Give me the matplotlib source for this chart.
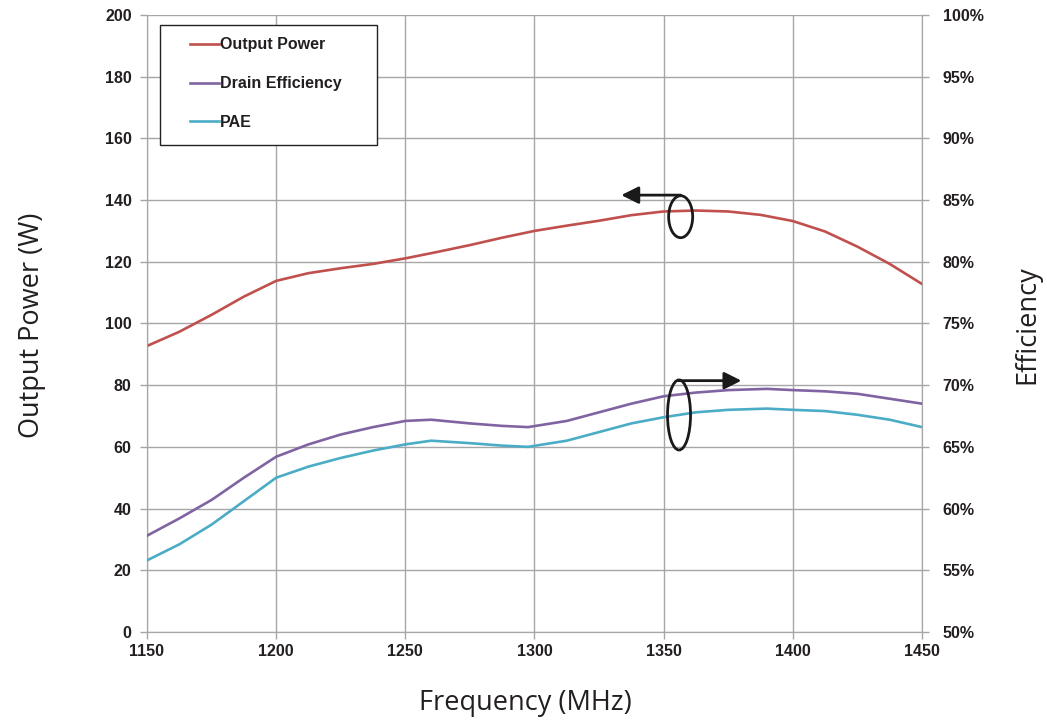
import matplotlib
matplotlib.use('Agg')
import matplotlib.pyplot as plt
from matplotlib.patches import Ellipse, Rectangle
from matplotlib.ticker import FuncFormatter

# data
freq_pout = [1150, 1162.5, 1175, 1187.5, 1200, 1212.5, 1225, 1237.5, 1250, 1262.5, 1275, 1287.5,
             1300, 1312.5, 1325, 1337.5, 1350, 1362.5, 1375, 1387.5, 1400, 1412.5, 1425, 1437.5, 1450]
pout_w = [92.7, 97.3, 102.8, 108.7, 113.8, 116.3, 117.9, 119.3, 121.1, 123.2, 125.4, 127.8,
          130.0, 131.7, 133.3, 135.1, 136.3, 136.6, 136.3, 135.2, 133.2, 129.8, 124.9, 119.3, 112.8]

freq_eff = [1150, 1162.5, 1175, 1187.5, 1200, 1212.5, 1225, 1237.5, 1250, 1260, 1275, 1287.5,
            1297.5, 1312.5, 1325, 1337.5, 1350, 1362.5, 1375, 1390, 1400, 1412.5, 1425, 1437.5, 1450]
drain_eff = [57.8, 59.2, 60.7, 62.5, 64.2, 65.2, 66.0, 66.6, 67.1, 67.2, 66.9, 66.7,
             66.6, 67.1, 67.8, 68.5, 69.1, 69.4, 69.6, 69.7, 69.6, 69.5, 69.3, 68.9, 68.5]
pae = [55.8, 57.1, 58.7, 60.6, 62.5, 63.4, 64.1, 64.7, 65.2, 65.5, 65.3, 65.1,
       65.0, 65.5, 66.2, 66.9, 67.4, 67.8, 68.0, 68.1, 68.0, 67.9, 67.6, 67.2, 66.6]

x_ticks = [1150, 1200, 1250, 1300, 1350, 1400, 1450]
left_ticks = [0, 20, 40, 60, 80, 100, 120, 140, 160, 180, 200]
right_ticks = [50, 55, 60, 65, 70, 75, 80, 85, 90, 95, 100]

RED = '#c0504d'
PURPLE = '#8064a2'
CYAN = '#4bacc6'
GRID = '#a6a6a6'
TXT = '#231f20'

plt.rcParams['font.family'] = ['Liberation Sans', 'DejaVu Sans']

fig = plt.figure(figsize=(10.47, 7.22), dpi=100)
ax = fig.add_axes([0.1404, 0.1247, 0.7402, 0.8546])
ax2 = ax.twinx()

l1, = ax.plot(freq_pout, pout_w, color=RED, lw=1.9, label='Output Power', zorder=3)
l2, = ax2.plot(freq_eff, drain_eff, color=PURPLE, lw=1.9, label='Drain Efficiency', zorder=3)
l3, = ax2.plot(freq_eff, pae, color=CYAN, lw=1.9, label='PAE', zorder=3)
for l in (l1, l2, l3):
    l.set_solid_joinstyle('round')

ax.set_xlim(1150, 1450)
ax.set_ylim(0, 200)
ax2.set_ylim(50, 100)
ax.set_xticks(x_ticks)
ax.set_yticks(left_ticks)
ax2.set_yticks(right_ticks)
ax2.yaxis.set_major_formatter(FuncFormatter(lambda v, p: f'{v:.0f}%'))

ax.grid(True, color=GRID, lw=1)
ax.set_axisbelow(True)
for a in (ax, ax2):
    for s in a.spines.values():
        s.set_color(GRID)
    a.spines['top'].set_visible(False)
    a.tick_params(colors=GRID, labelcolor=TXT, labelsize=11.5, length=5, width=1)
    for lbl in a.get_xticklabels() + a.get_yticklabels():
        lbl.set_fontweight('bold')
ax.tick_params(axis='y', pad=6)
ax.tick_params(axis='x', pad=4)
ax2.tick_params(axis='y', pad=10)

# legend box and entries
ax.add_patch(Rectangle((0.0168, 0.789), 0.280, 0.1945, transform=ax.transAxes,
                       fill=True, facecolor='white', edgecolor='#222222', lw=1, zorder=5))
leg = ax2.legend(handles=[l1, l2, l3], loc='upper left', bbox_to_anchor=(0.0555, 0.964),
                 frameon=False, borderpad=0, borderaxespad=0, handlelength=1.8,
                 handletextpad=0.1, labelspacing=1.5,
                 prop={'weight': 'bold', 'size': 11.5})
leg.set_zorder(6)
for t in leg.get_texts():
    t.set_color(TXT)

# ellipse + arrow markers
ax2.add_patch(Ellipse((0.6886, 0.673), 0.031, 0.068, transform=ax.transAxes,
                      fill=False, edgecolor='#1a1a1a', lw=2, zorder=4))
ax2.annotate('', xy=(0.612, 0.708), xytext=(0.6886, 0.708), xycoords=ax.transAxes,
             arrowprops=dict(arrowstyle='-|>', color='#1a1a1a', lw=2, mutation_scale=26,
                             shrinkA=0, shrinkB=0))
ax2.add_patch(Ellipse((0.6865, 0.3517), 0.0297, 0.1135, transform=ax.transAxes,
                      fill=False, edgecolor='#1a1a1a', lw=2, zorder=4))
ax2.annotate('', xy=(0.767, 0.4073), xytext=(0.6855, 0.4073), xycoords=ax.transAxes,
             arrowprops=dict(arrowstyle='-|>', color='#1a1a1a', lw=2, mutation_scale=26,
                             shrinkA=0, shrinkB=0))

lab = dict(fontsize=19.5, family='Open Sans', color=TXT, ha='center', va='center')
fig.text(0.0306, 0.55, 'Output Power (W)', rotation=90, **lab)
fig.text(0.981, 0.55, 'Efficiency', rotation=90, **lab)
fig.text(0.5015, 0.026, 'Frequency (MHz)', **lab)

fig.savefig('out.png', dpi=100)
